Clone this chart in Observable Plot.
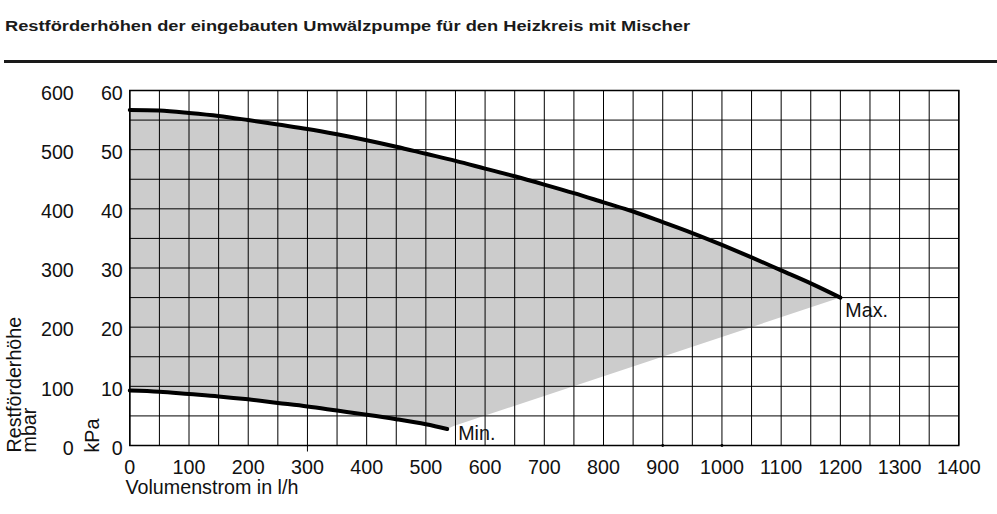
<!DOCTYPE html>
<html><head><meta charset="utf-8">
<script src="https://cdn.jsdelivr.net/npm/d3@7"></script>
<script src="https://cdn.jsdelivr.net/npm/@observablehq/plot@0.6"></script>
<style>
body{margin:0;background:#fff;}
#wrap{position:relative;width:997px;height:514px;overflow:hidden;font-family:"Liberation Sans",Arial,sans-serif;}
#head{position:absolute;left:0;top:0;}
#chart{position:absolute;left:0;top:0;}
#chart svg text{font-size:19.7px !important;font-family:"Liberation Sans",Arial,sans-serif !important;fill:#111;}
</style></head><body>
<div id="wrap"><div id="chart"></div><svg id="head" width="997" height="70"></svg></div>
<script>
const titleText = "Restförderhöhen der eingebauten Umwälzpumpe für den Heizkreis mit Mischer";
const xLabel = "Volumenstrom in l/h";
const yLabel = "Restförderhöhe";
const unitMbar = "mbar";
const unitKPa = "kPa";

const flowTicks = [0,100,200,300,400,500,600,700,800,900,1000,1100,1200,1300,1400];
const headTicks = [0,10,20,30,40,50,60];
const gridFlow = d3.range(0, 1401, 50);
const gridHead = d3.range(0, 61, 5);

// Max curve (l/h, kPa)
const maxFlow = [0,50,100,150,200,250,300,350,400,450,500,550,600,650,700,750,800,850,900,950,1000,1050,1100,1150,1200];
const maxHead = [56.7,56.6,56.2,55.7,55.0,54.25,53.5,52.6,51.6,50.5,49.3,48.1,46.8,45.5,44.1,42.65,41.1,39.55,37.75,35.9,33.9,31.8,29.6,27.4,25.0];
// Min curve
const minFlow = [0,50,100,150,200,250,300,350,400,450,500,536];
const minHead = [9.3,9.1,8.7,8.3,7.8,7.2,6.6,5.9,5.2,4.45,3.6,2.8];
// lower corner of the shaded field
const tipFlow = [547];
const tipHead = [3.3];

const extraTick = [300];
const markDots = [900, 1000];

const maxPts = maxFlow.map((x, i) => ({x, y: maxHead[i]}));
const minPts = minFlow.map((x, i) => ({x, y: minHead[i]}));
const shade = [...maxPts, {x: tipFlow[0], y: tipHead[0]}, ...minPts.slice().reverse()];

const FONT = "Liberation Sans, Arial, sans-serif";
const FS = 19.7;

const chart = Plot.plot({
  width: 997, height: 514,
  marginLeft: 129.3, marginRight: 38.7, marginTop: 90, marginBottom: 69,
  x: {domain: [0, 1400]},
  y: {domain: [0, 60]},
  style: {fontFamily: FONT, fontSize: FS + "px", color: "#000", background: "transparent", overflow: "visible"},
  marks: [
    Plot.line(shade, {x: "x", y: "y", fill: "#cccccc", stroke: "none"}),
    Plot.ruleX(gridFlow, {stroke: "#000", strokeWidth: 1}),
    Plot.ruleY(gridHead, {stroke: "#000", strokeWidth: 1}),
    Plot.frame({stroke: "#000", strokeWidth: 1.5}),
    Plot.ruleX(extraTick, {y1: 0, y2: -1.1, stroke: "#000", strokeWidth: 1}),
    Plot.dot(markDots.map(x => ({x, y: 0})), {x: "x", y: "y", r: 1.4, fill: "#000", stroke: "none"}),
    Plot.line(maxPts, {x: "x", y: "y", stroke: "#000", strokeWidth: 4, curve: "catmull-rom"}),
    Plot.line(minPts, {x: "x", y: "y", stroke: "#000", strokeWidth: 4, curve: "catmull-rom"}),
    Plot.axisX(flowTicks, {tickSize: 0, tickPadding: 14, label: null, fontSize: FS, tickFormat: d => String(d)}),
    Plot.axisY(headTicks, {tickSize: 0, tickPadding: 7, dy: 3, label: null, fontSize: FS, tickFormat: d => String(d)}),
    Plot.axisY(headTicks, {tickSize: 0, tickPadding: 56, dy: 3, label: null, fontSize: FS, tickFormat: d => String(d * 10)}),
    Plot.text([{x: maxFlow[maxFlow.length - 1], y: maxHead[maxHead.length - 1], t: "Max."}], {x: "x", y: "y", text: "t", textAnchor: "start", dx: 5, dy: 13, fontSize: FS}),
    Plot.text([{x: minFlow[minFlow.length - 1], y: minHead[minHead.length - 1], t: "Min."}], {x: "x", y: "y", text: "t", textAnchor: "start", dx: 11, dy: 5, fontSize: FS}),
    Plot.text([xLabel], {frameAnchor: "bottom-left", textAnchor: "start", dx: -4.3, dy: 48, fontSize: FS}),
    Plot.text([yLabel], {frameAnchor: "bottom-left", textAnchor: "start", rotate: -90, dx: -109, dy: 7, fontSize: FS}),
    Plot.text([unitMbar], {frameAnchor: "bottom-left", textAnchor: "start", rotate: -90, dx: -93.5, dy: 7, fontSize: FS}),
    Plot.text([unitKPa], {frameAnchor: "bottom-left", textAnchor: "start", rotate: -90, dx: -30.8, dy: 7, fontSize: FS})
  ]
});
document.getElementById("chart").appendChild(chart);

const head = d3.select("#head");
head.append("text")
  .attr("x", 5).attr("y", 30.5)
  .attr("font-family", FONT).attr("font-weight", "bold").attr("font-size", 14)
  .attr("fill", "#1a1a1a")
  .attr("textLength", 685).attr("lengthAdjust", "spacingAndGlyphs")
  .text(titleText);
head.append("rect").attr("x", 4).attr("y", 60).attr("width", 993).attr("height", 3).attr("fill", "#1a1a1a");
</script>
</body></html>
